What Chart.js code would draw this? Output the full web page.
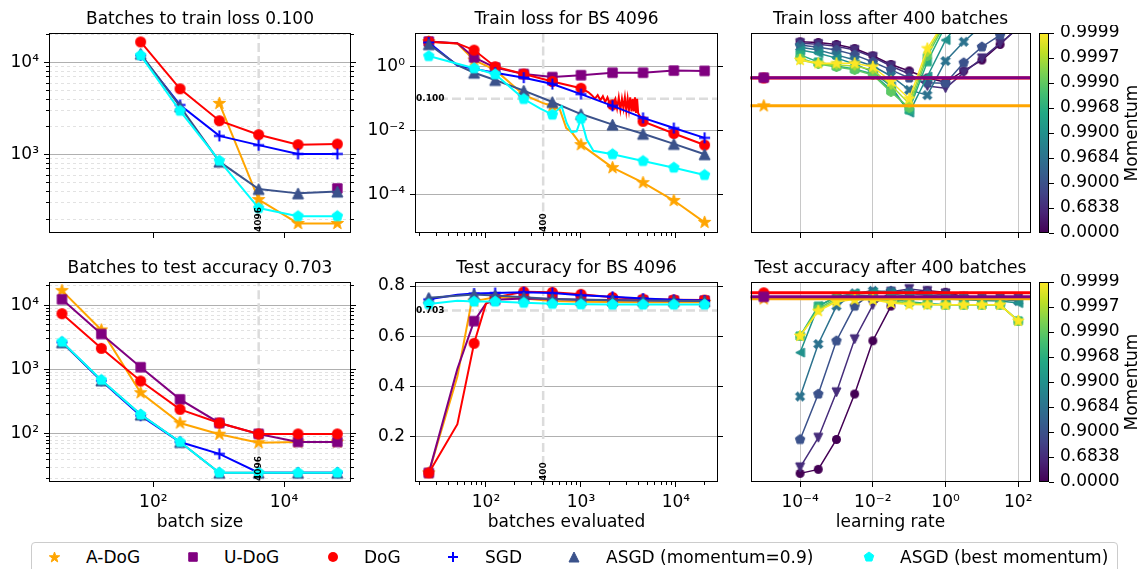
<!DOCTYPE html>
<html>
<head>
<meta charset="utf-8">
<script src="https://cdn.jsdelivr.net/npm/chart.js@4.4.1/dist/chart.umd.min.js"></script>
<style>
  html, body { margin: 0; padding: 0; background: #fff; }
  #fig { position: relative; width: 1142px; height: 569px; overflow: hidden; font-family: 'DejaVu Sans', sans-serif; }
  #fig canvas { position: absolute; }
  #legendBox { position: absolute; left: 31px; top: 542px; width: 1087px; height: 40px; border: 1px solid #cccccc; border-radius: 4px; box-sizing: border-box; }
  .lg { position: absolute; top: 547px; font-size: 17px; line-height: 20px; white-space: nowrap; color: #000; }
</style>
</head>
<body>
<div id="fig"><div id="legendBox"></div></div>
<script>
// ---------------- data ----------------
const methodNames = ['A-DoG', 'U-DoG', 'DoG', 'SGD', 'ASGD (momentum=0.9)', 'ASGD (best momentum)'];
const methodColors = ['#ffa500', '#800080', '#ff0000', '#0000ff', '#3b528b', '#00ffff'];
const methodMarkers = ['*', 's', 'o', '+', '^', 'p'];

const refBatchSize = 4096;
const refSteps = 400;
const trainLossTarget = 0.1;
const testAccTarget = 0.703;

// batches needed to reach the target, per batch size
const batchSizes = [4, 16, 64, 256, 1024, 4096, 16384, 65536];
const trainBatchesADoG = [null, null, null, null, 3610, 325, 179, 179];
const trainBatchesUDoG = [null, null, null, null, null, null, null, 430];
const trainBatchesDoG = [null, null, 16800, 5200, 2340, 1650, 1285, 1305];
const trainBatchesSGD = [null, null, 12000, 3470, 1600, 1270, 1020, 1020];
const trainBatchesASGD = [null, null, 12500, 3350, 840, 424, 380, 397];
const trainBatchesASGDBest = [null, null, 12000, 3000, 860, 263, 215, 215];

const testBatchesADoG = [16900, 4130, 437, 148, 99, 73, 75, 75];
const testBatchesUDoG = [12400, 3570, 1090, 345, 148, 100, 75, 75];
const testBatchesDoG = [7400, 2140, 665, 241, 148, 100, 100, 100];
const testBatchesSGD = [2660, 672, 192, 75, 49, 25, 25, 25];
const testBatchesASGD = [2660, 680, 200, 75, 25, 25, 25, 25];
const testBatchesASGDBest = [2700, 690, 200, 75, 25, 25, 25, 25];

// curves for BS 4096 (markers at the evaluation steps)
const evalSteps = [25, 75, 125, 250, 500, 1000, 2150, 4500, 9500, 20000];
const lossStepsADoG = [25, 50, 75, 125, 190, 250, 400, 500, 600, 700, 800, 1000, 2150, 4500, 9500, 20000];
const lossADoG = [6.2, 5.5, 1.65, 0.81, 0.27, 0.133, 0.073, 0.059, 0.045, 0.012, 0.0088, 0.0036, 0.00068, 0.00023, 0.000063, 0.000013];
const lossStepsUDoG = [25, 50, 75, 125, 250, 500, 1000, 2150, 4500, 9500, 20000];
const lossUDoG = [6.3, 5.6, 2.0, 0.95, 0.6, 0.48, 0.55, 0.66, 0.66, 0.77, 0.75];
const lossStepsDoG = [25, 50, 75, 125, 250, 500, 1000, 1200, 1300, 1400, 1500, 1600, 1700, 1800, 1900, 2000, 2150,
  2300, 2400, 2500, 2600, 2700, 2800, 2900, 3000, 3100, 3200, 3300, 3400, 3500, 3600, 3700, 3800, 3900, 4000, 4500, 9500, 20000];
const lossDoG = [6.2, 5.5, 3.4, 1.02, 0.6, 0.35, 0.215, 0.16, 0.13, 0.1, 0.13, 0.09, 0.12, 0.08, 0.11, 0.07, 0.065,
  0.1, 0.05, 0.11, 0.045, 0.1, 0.05, 0.11, 0.042, 0.1, 0.045, 0.11, 0.04, 0.1, 0.04, 0.11, 0.036, 0.1, 0.035, 0.0195, 0.0081, 0.0035];
const lossStepsSGD = [25, 50, 75, 125, 250, 380, 500, 1000, 2150, 4500, 9500, 20000];
const lossSGD = [5.9, 1.1, 0.87, 0.66, 0.46, 0.35, 0.29, 0.14, 0.06, 0.025, 0.012, 0.0059];
const lossStepsASGD = [25, 50, 75, 125, 250, 500, 1000, 2150, 4500, 9500, 20000];
const lossASGD = [5.2, 1.15, 0.66, 0.39, 0.18, 0.079, 0.033, 0.0154, 0.0079, 0.0038, 0.0018];
const lossStepsASGDBest = [25, 75, 125, 250, 370, 500, 626, 707, 795, 900, 1000, 1150, 1350, 2150, 4500, 9500, 20000];
const lossASGDBest = [2.2, 0.91, 0.59, 0.098, 0.05, 0.0316, 0.058, 0.0173, 0.0089, 0.0095, 0.0237, 0.0052, 0.0023, 0.0018, 0.0011, 0.00068, 0.0004];

const accStepsADoG = [25, 50, 70, 75, 125, 250, 500, 1000, 2150, 4500, 9500, 20000];
const accADoG = [0.056, 0.44, 0.73, 0.74, 0.755, 0.75, 0.74, 0.737, 0.736, 0.735, 0.735, 0.735];
const accStepsUDoG = [25, 50, 75, 100, 125, 250, 500, 1000, 2150, 4500, 9500, 20000];
const accUDoG = [0.056, 0.47, 0.66, 0.73, 0.745, 0.75, 0.748, 0.745, 0.744, 0.743, 0.742, 0.742];
const accStepsDoG = [25, 50, 75, 100, 125, 250, 500, 1000, 2150, 4500, 9500, 20000];
const accDoG = [0.056, 0.25, 0.572, 0.73, 0.755, 0.777, 0.775, 0.767, 0.755, 0.748, 0.745, 0.744];
const accStepsSGD = [25, 50, 75, 125, 250, 500, 1000, 2150, 4500, 9500, 20000];
const accSGD = [0.747, 0.765, 0.77, 0.772, 0.775, 0.772, 0.763, 0.757, 0.75, 0.745, 0.742];
const accStepsASGD = [25, 75, 125, 250, 500, 1000, 2150, 4500, 9500, 20000];
const accASGD = [0.753, 0.766, 0.762, 0.755, 0.748, 0.745, 0.743, 0.742, 0.741, 0.74];
const accStepsASGDBest = [25, 50, 75, 125, 250, 500, 1000, 2150, 4500, 9500, 20000];
const accASGDBest = [0.728, 0.741, 0.738, 0.738, 0.733, 0.729, 0.727, 0.726, 0.726, 0.726, 0.726];

// learning-rate sweeps after 400 batches
const learningRates = [1e-4, 3.16e-4, 1e-3, 3.16e-3, 1e-2, 3.16e-2, 0.1, 0.316, 1, 3.16, 10, 31.6, 100];
const momentumLabels = ['0.0000', '0.6838', '0.9000', '0.9684', '0.9900', '0.9968', '0.9990', '0.9997', '0.9999'];
const momentumColors = ['#440154', '#472d7b', '#3b528b', '#2c728e', '#21918c', '#27ad81', '#5ec962', '#aadc32', '#fde725'];
const momentumMarkers = ['o', 'v', 'p', 'X', '<', 's', 'h', 'D', '*'];
const lossByMomentum = [
  [6.2, 5.9, 5.1, 3.8, 2.25, 1.2, 0.75, 0.45, 0.33, 0.75, 1.65, 5.1, 17.8],
  [5.6, 5.2, 4.5, 3.4, 2.05, 1.07, 0.6, 0.25, 0.215, 0.66, 1.87, 5.5, 16.5],
  [4.9, 4.2, 3.4, 2.4, 1.43, 0.81, 0.45, 0.32, 0.31, 1.36, 4.3, 10, 25],
  [4.2, 3.4, 2.4, 1.65, 1.07, 0.52, 0.19, 0.13, 1.54, 6.2, 20, null, null],
  [3.4, 2.7, 1.9, 1.24, 0.7, 0.25, 0.0365, 0.5, 7.0, 40, null, null, null],
  [2.4, 1.43, 1.07, 0.87, 0.6, 0.19, 0.045, 1.46, 20, null, null, null, null],
  [1.9, 1.24, 1.0, 0.81, 0.56, 0.165, 0.052, 2.2, 25, null, null, null, null],
  [1.65, 1.24, 1.15, 1.07, 0.81, 0.27, 0.07, 2.9, 28, null, null, null, null],
  [1.65, 1.3, 1.3, 1.3, 1.02, 0.35, 0.1, 3.8, 30, null, null, null, null]
];
const accByMomentum = [
  [0.054, 0.07, 0.189, 0.37, 0.582, 0.72, 0.771, 0.781, 0.775, 0.757, 0.753, 0.753, 0.753],
  [0.078, 0.196, 0.377, 0.588, 0.724, 0.777, 0.788, 0.78, 0.77, 0.757, 0.755, 0.754, 0.753],
  [0.189, 0.37, 0.582, 0.72, 0.774, 0.78, 0.777, 0.77, 0.765, 0.757, 0.752, 0.752, 0.75],
  [0.36, 0.569, 0.72, 0.771, 0.781, 0.777, 0.77, 0.763, 0.758, 0.752, 0.748, 0.746, 0.74],
  [0.535, 0.72, 0.757, 0.771, 0.775, 0.768, 0.76, 0.752, 0.748, 0.745, 0.742, 0.74, 0.732],
  [0.601, 0.72, 0.757, 0.765, 0.76, 0.748, 0.737, 0.73, 0.725, 0.725, 0.725, 0.725, 0.661],
  [0.601, 0.71, 0.75, 0.755, 0.752, 0.74, 0.732, 0.727, 0.725, 0.725, 0.725, 0.725, 0.661],
  [0.601, 0.705, 0.742, 0.75, 0.748, 0.735, 0.73, 0.726, 0.725, 0.725, 0.725, 0.725, 0.661],
  [0.601, 0.7, 0.737, 0.746, 0.745, 0.732, 0.726, 0.725, 0.725, 0.725, 0.725, 0.725, 0.661]
];
// parameter-free baselines, drawn as horizontal lines (A-DoG, DoG, U-DoG)
const baselineIdx = [0, 2, 1];
const baselineLR = 1e-5;
const trainLossAt400 = [0.06, 0.45, 0.46];
const testAccAt400 = [0.749, 0.773, 0.757];

// ---------------- helpers ----------------
Chart.defaults.font.family = "'DejaVu Sans', sans-serif";
Chart.defaults.font.size = 17;
Chart.defaults.color = '#000';

const SUP = { '-': '⁻', '0': '⁰', '1': '¹', '2': '²', '3': '³', '4': '⁴', '5': '⁵', '6': '⁶', '7': '⁷', '8': '⁸', '9': '⁹' };
function pow10Label(v) {
  const e = Math.round(Math.log10(v));
  return '10' + String(e).split('').map(ch => SUP[ch]).join('');
}
function decadeTicks(min, max) {
  const out = [];
  for (let e = Math.floor(Math.log10(min)); e <= Math.ceil(Math.log10(max)); e++) {
    for (let s = 2; s <= 9; s++) {
      const v = s * Math.pow(10, e);
      if (v >= min && v <= max) out.push(v);
    }
  }
  return out;
}

function markerImage(shape, color, size) {
  const S = Math.ceil(size) + 4;
  const c = document.createElement('canvas');
  c.width = S; c.height = S;
  const g = c.getContext('2d');
  g.translate(S / 2, S / 2);
  g.fillStyle = color; g.strokeStyle = color; g.lineWidth = 1;
  const r = size / 2;
  if (shape === '+') {
    g.lineWidth = 2;
    g.beginPath(); g.moveTo(-r, 0); g.lineTo(r, 0); g.moveTo(0, -r); g.lineTo(0, r); g.stroke();
    return c;
  }
  if (shape === 'o') {
    g.beginPath(); g.arc(0, 0, r, 0, 2 * Math.PI); g.fill();
    return c;
  }
  let pts = [];
  const ring = (n, rad, rot) => { for (let i = 0; i < n; i++) { const a = rot + i * 2 * Math.PI / n; pts.push([rad * Math.cos(a), rad * Math.sin(a)]); } };
  if (shape === 's') { const h = r * 0.85; pts = [[-h, -h], [h, -h], [h, h], [-h, h]]; }
  if (shape === '^') pts = [[0, -r], [r, r], [-r, r]];
  if (shape === 'v') pts = [[0, r], [r, -r], [-r, -r]];
  if (shape === '<') pts = [[-r, 0], [r, -r], [r, r]];
  if (shape === 'p') ring(5, r, -Math.PI / 2);
  if (shape === 'h') ring(6, r, -Math.PI / 2);
  if (shape === 'D') pts = [[0, -r], [r * 0.8, 0], [0, r], [-r * 0.8, 0]];
  if (shape === '*') {
    for (let i = 0; i < 10; i++) {
      const a = -Math.PI / 2 + i * Math.PI / 5, rad = i % 2 ? r * 0.4 : r;
      pts.push([rad * Math.cos(a), rad * Math.sin(a)]);
    }
  }
  if (shape === 'X') {
    const t = r * 0.32, q = Math.SQRT1_2;
    const plus = [[-t, -r], [t, -r], [t, -t], [r, -t], [r, t], [t, t], [t, r], [-t, r], [-t, t], [-r, t], [-r, -t], [-t, -t]];
    pts = plus.map(([x, y]) => [(x - y) * q, (x + y) * q]);
  }
  g.beginPath();
  pts.forEach(([x, y], i) => i ? g.lineTo(x, y) : g.moveTo(x, y));
  g.closePath(); g.fill(); g.stroke();
  return c;
}
const bigSize = { '*': 13, 's': 11, 'o': 11, '+': 11, '^': 11, 'p': 11 };
const smallSize = { 'o': 9, 'v': 9, 'p': 10, 'X': 10, '<': 9, 's': 9.5, 'h': 9.5, 'D': 9, '*': 12 };

function scale(type, position, min, max, tickValues, o) {
  o = o || {};
  return {
    type, position, min, max, bounds: 'data', weight: o.weight ?? 1, display: o.hidden ? false : true,
    afterBuildTicks: s => { s.ticks = tickValues.map(v => ({ value: v })); },
    afterFit: s => {
      if (s.isHorizontal()) s.height = o.size ?? 0; else s.width = o.size ?? 0;
      s.paddingLeft = s.paddingRight = s.paddingTop = s.paddingBottom = 0;
    },
    ticks: { display: !!o.labels, callback: o.fmt || pow10Label, padding: o.pad ?? 5, autoSkip: false, maxRotation: 0, minRotation: 0, color: '#000' },
    grid: { drawOnChartArea: !!o.grid, color: o.grid || 'rgba(0,0,0,0)', lineWidth: 1, drawTicks: o.tl !== 0, tickLength: o.tl ?? 5, tickColor: '#000', tickWidth: 1 },
    border: { display: false, dash: o.dash || [] },
    title: o.title ? { display: true, text: o.title, color: '#000', font: { size: 17 }, padding: { top: 0, bottom: 8.8 } } : { display: false }
  };
}

function lineSet(points, color, marker, msize, o) {
  o = o || {};
  const img = markerImage(marker, color, msize);
  return {
    data: points, borderColor: color, backgroundColor: color, borderWidth: o.lw ?? 2,
    pointStyle: img,
    pointRadius: o.markAt ? (ctx => (ctx.raw && o.markAt(ctx.raw)) ? 4 : 0) : 4,
    order: o.order ?? 0, clip: 0, spanGaps: false, tension: 0, fill: false
  };
}
function guide(points) {
  return { data: points, borderColor: '#dcdcdc', borderWidth: 2.5, borderDash: [9, 4], pointRadius: 0, order: 100, clip: 0, fill: false };
}

const framePlugin = {
  id: 'frame',
  afterDatasetsDraw(chart) {
    const a = chart.chartArea, c = chart.ctx;
    c.save(); c.strokeStyle = '#000'; c.lineWidth = 1;
    c.strokeRect(Math.round(a.left) + 0.5, Math.round(a.top) + 0.5, Math.round(a.right - a.left) - 1, Math.round(a.bottom - a.top) - 1);
    c.restore();
  }
};
function notesPlugin(notes) {
  return {
    id: 'notes',
    afterDatasetsDraw(chart) {
      const c = chart.ctx, a = chart.chartArea;
      c.save();
      c.font = "bold 9px 'DejaVu Sans'";
      c.fillStyle = '#000'; c.textBaseline = 'middle'; c.textAlign = 'left';
      notes.forEach(n => {
        if (n.x !== undefined) {
          const px = chart.scales.x.getPixelForValue(n.x);
          c.save(); c.translate(px, a.bottom - 1); c.rotate(-Math.PI / 2); c.fillText(n.text, 0, 0); c.restore();
        } else {
          c.fillText(n.text, a.left + 1, chart.scales.y.getPixelForValue(n.y));
        }
      });
      c.restore();
    }
  };
}

const fig = document.getElementById('fig');
function makeChart(plot, pad, title, scales, datasets, extra) {
  const cv = document.createElement('canvas');
  cv.width = plot.r - plot.l + pad.l + pad.r;
  cv.height = plot.b - plot.t + pad.t + pad.b;
  cv.style.left = (plot.l - pad.l) + 'px';
  cv.style.top = (plot.t - pad.t) + 'px';
  fig.appendChild(cv);
  return new Chart(cv, {
    type: 'line',
    data: { datasets },
    options: {
      responsive: false, animation: false, events: [],
      plugins: {
        legend: { display: false }, tooltip: { enabled: false },
        title: { display: true, text: title, color: '#000', font: { size: 17, weight: 'normal' }, padding: { top: 9.3, bottom: 3.3 } }
      },
      scales
    },
    plugins: [framePlugin].concat(extra || [])
  });
}

// ---------------- layout ----------------
const rows = [{ t: 33, b: 233 }, { t: 282, b: 482 }];
const colLeft = { l: 49, r: 351 }, colMid = { l: 415, r: 718 }, colRight = { l: 757, r: 1024 };

// ---- left column: batches to target vs batch size ----
function leftPanel(row, title, yMin, yMax, yMajor, seriesList, bottom) {
  const plot = { l: colLeft.l, r: colLeft.r, t: rows[row].t, b: rows[row].b };
  const padB = bottom ? 60 : 12;
  const yMinor = decadeTicks(yMin, yMax);
  const scales = {
    x: scale('logarithmic', 'bottom', 2.53, 106000, [100, 10000], { size: padB, labels: bottom, title: bottom ? 'batch size' : null }),
    y: scale('logarithmic', 'left', yMin, yMax, yMajor, { size: 49, labels: true, grid: '#b0b0b0', pad: 5 }),
    yMinL: scale('logarithmic', 'left', yMin, yMax, yMinor, { size: 0, grid: '#e2e2e2', dash: [3, 3], tl: 3, weight: 0 }),
    yR: scale('logarithmic', 'right', yMin, yMax, yMajor, { size: 49 }),
    yMinR: scale('logarithmic', 'right', yMin, yMax, yMinor, { size: 0, tl: 3, weight: 0 })
  };
  const ds = [guide([{ x: refBatchSize, y: yMin / 10 }, { x: refBatchSize, y: yMax * 10 }])];
  seriesList.forEach((vals, k) => {
    ds.push(lineSet(batchSizes.map((b, i) => ({ x: b, y: vals[i] })), methodColors[k], methodMarkers[k], bigSize[methodMarkers[k]], { order: 50 - k }));
  });
  makeChart(plot, { l: 49, r: 49, t: 33, b: padB }, title, scales, ds, [notesPlugin([{ x: refBatchSize, text: String(refBatchSize) }])]);
}
leftPanel(0, 'Batches to train loss 0.100', 141, 21000, [1000, 10000],
  [trainBatchesADoG, trainBatchesUDoG, trainBatchesDoG, trainBatchesSGD, trainBatchesASGD, trainBatchesASGDBest], false);
leftPanel(1, 'Batches to test accuracy 0.703', 17.9, 23000, [100, 1000, 10000],
  [testBatchesADoG, testBatchesUDoG, testBatchesDoG, testBatchesSGD, testBatchesASGD, testBatchesASGDBest], true);

// ---- middle column: curves for BS 4096 ----
function midPanel(row, title, yScaleDef, yScaleRight, stepsList, valsList, bottom, hLine, hText, yLowHigh) {
  const plot = { l: colMid.l, r: colMid.r, t: rows[row].t, b: rows[row].b };
  const padB = bottom ? 60 : 12;
  const xMin = 17.9, xMax = 27700;
  const scales = {
    x: scale('logarithmic', 'bottom', xMin, xMax, [100, 1000, 10000], { size: padB, labels: bottom, title: bottom ? 'batches evaluated' : null }),
    xMin: scale('logarithmic', 'bottom', xMin, xMax, decadeTicks(xMin, xMax), { size: 0, tl: 3, weight: 0 }),
    y: yScaleDef,
    yR: yScaleRight
  };
  const ds = [
    guide([{ x: 1, y: hLine }, { x: 1e6, y: hLine }]),
    guide([{ x: refSteps, y: yLowHigh[0] }, { x: refSteps, y: yLowHigh[1] }])
  ];
  stepsList.forEach((steps, k) => {
    ds.push(lineSet(steps.map((s, i) => ({ x: s, y: valsList[k][i] })), methodColors[k], methodMarkers[k], bigSize[methodMarkers[k]],
      { order: 50 - k, markAt: p => evalSteps.includes(p.x) }));
  });
  makeChart(plot, { l: 60, r: 60, t: 33, b: padB }, title, scales, ds,
    [notesPlugin([{ y: hLine, text: hText }, { x: refSteps, text: String(refSteps) }])]);
}
const lossMin = 6.0e-6, lossMax = 11.7;
midPanel(0, 'Train loss for BS 4096',
  scale('logarithmic', 'left', lossMin, lossMax, [1, 0.01, 0.0001], { size: 60, labels: true, grid: '#b0b0b0', pad: 5 }),
  scale('logarithmic', 'right', lossMin, lossMax, [1, 0.01, 0.0001], { size: 60 }),
  [lossStepsADoG, lossStepsUDoG, lossStepsDoG, lossStepsSGD, lossStepsASGD, lossStepsASGDBest],
  [lossADoG, lossUDoG, lossDoG, lossSGD, lossASGD, lossASGDBest], false, trainLossTarget, '0.100', [1e-7, 1e3]);
const accMin = 0.0197, accMax = 0.816;
const accTicks = [0.2, 0.4, 0.6, 0.8];
midPanel(1, 'Test accuracy for BS 4096',
  scale('linear', 'left', accMin, accMax, accTicks, { size: 60, labels: true, grid: '#b0b0b0', pad: 5, fmt: v => v.toFixed(1) }),
  scale('linear', 'right', accMin, accMax, accTicks, { size: 60 }),
  [accStepsADoG, accStepsUDoG, accStepsDoG, accStepsSGD, accStepsASGD, accStepsASGDBest],
  [accADoG, accUDoG, accDoG, accSGD, accASGD, accASGDBest], true, testAccTarget, '0.703', [-1, 2]);

// ---- right column: learning-rate sweeps ----
function rightPanel(row, title, yScaleDef, byMomentum, baseVals, bottom) {
  const plot = { l: colRight.l, r: colRight.r, t: rows[row].t, b: rows[row].b };
  const padB = bottom ? 60 : 12;
  const scales = {
    x: scale('logarithmic', 'bottom', 4.32e-6, 217, [1e-4, 1e-2, 1, 100], { size: padB, labels: bottom, grid: '#c8c8c8', title: bottom ? 'learning rate' : null }),
    y: yScaleDef
  };
  const ds = [];
  byMomentum.forEach((vals, k) => {
    ds.push(lineSet(learningRates.map((lr, i) => ({ x: lr, y: vals[i] })), momentumColors[k], momentumMarkers[k], smallSize[momentumMarkers[k]],
      { order: 50 - k, lw: 1.5 }));
  });
  baselineIdx.forEach((m, j) => {
    const v = baseVals[j];
    ds.push(lineSet([{ x: 1e-8, y: v }, { x: baselineLR, y: v }, { x: 1e5, y: v }], methodColors[m], methodMarkers[m], bigSize[methodMarkers[m]],
      { order: 10 - j, lw: 3, markAt: p => p.x === baselineLR }));
  });
  makeChart(plot, { l: 12, r: 12, t: 33, b: padB }, title, scales, ds);
}
rightPanel(0, 'Train loss after 400 batches', scale('logarithmic', 'left', lossMin, lossMax, [], { hidden: true }), lossByMomentum, trainLossAt400, false);
rightPanel(1, 'Test accuracy after 400 batches', scale('linear', 'left', accMin, accMax, [], { hidden: true }), accByMomentum, testAccAt400, true);

// ---- colorbars ----
const viridisStops = ['#440154', '#482475', '#414487', '#355f8d', '#2a788e', '#21918c', '#22a884', '#44bf70', '#7ad151', '#bddf26', '#fde725'];
const momentumTitle = {
  id: 'momTitle',
  afterDraw(chart) {
    const a = chart.chartArea, c = chart.ctx;
    c.save();
    c.font = "17px 'DejaVu Sans'"; c.fillStyle = '#000'; c.textAlign = 'center'; c.textBaseline = 'middle';
    c.translate(a.right + 84, (a.top + a.bottom) / 2); c.rotate(-Math.PI / 2);
    c.fillText('Momentum', 0, 0);
    c.restore();
  }
};
function colorbar(top) {
  const cv = document.createElement('canvas');
  cv.width = 2 + 10 + 93; cv.height = 200 + 16;
  cv.style.left = '1037px'; cv.style.top = (top - 8) + 'px';
  fig.appendChild(cv);
  const n = momentumLabels.length - 1;
  new Chart(cv, {
    type: 'bar',
    data: {
      labels: ['m'],
      datasets: [{
        data: [[0, n]], borderWidth: 0, barPercentage: 1, categoryPercentage: 1,
        backgroundColor: ctx => {
          const a = ctx.chart.chartArea;
          if (!a) return '#21918c';
          const g = ctx.chart.ctx.createLinearGradient(0, a.bottom, 0, a.top);
          viridisStops.forEach((col, i) => g.addColorStop(i / (viridisStops.length - 1), col));
          return g;
        }
      }]
    },
    options: {
      responsive: false, animation: false, events: [],
      layout: { padding: { top: 8, bottom: 8, left: 2, right: 0 } },
      plugins: { legend: { display: false }, tooltip: { enabled: false } },
      scales: {
        x: { display: false },
        y: scale('linear', 'right', 0, n, momentumLabels.map((_, i) => i), { size: 93, labels: true, pad: 6, fmt: v => momentumLabels[v] })
      }
    },
    plugins: [framePlugin, momentumTitle]
  });
}
colorbar(rows[0].t);
colorbar(rows[1].t);

// ---- legend ----
const legendMarkX = [54, 193, 333, 453, 574, 869];
const legendTextX = [86, 224, 364, 485, 606, 900];
const legendSize = { '*': 11, 's': 10, 'o': 10, '+': 10, '^': 10, 'p': 10 };
methodNames.forEach((name, k) => {
  const m = markerImage(methodMarkers[k], methodColors[k], legendSize[methodMarkers[k]]);
  m.style.left = (legendMarkX[k] - m.width / 2) + 'px';
  m.style.top = (557 - m.height / 2) + 'px';
  fig.appendChild(m);
  const sp = document.createElement('span');
  sp.className = 'lg';
  sp.style.left = legendTextX[k] + 'px';
  sp.textContent = name;
  fig.appendChild(sp);
});
</script>
</body>
</html>
